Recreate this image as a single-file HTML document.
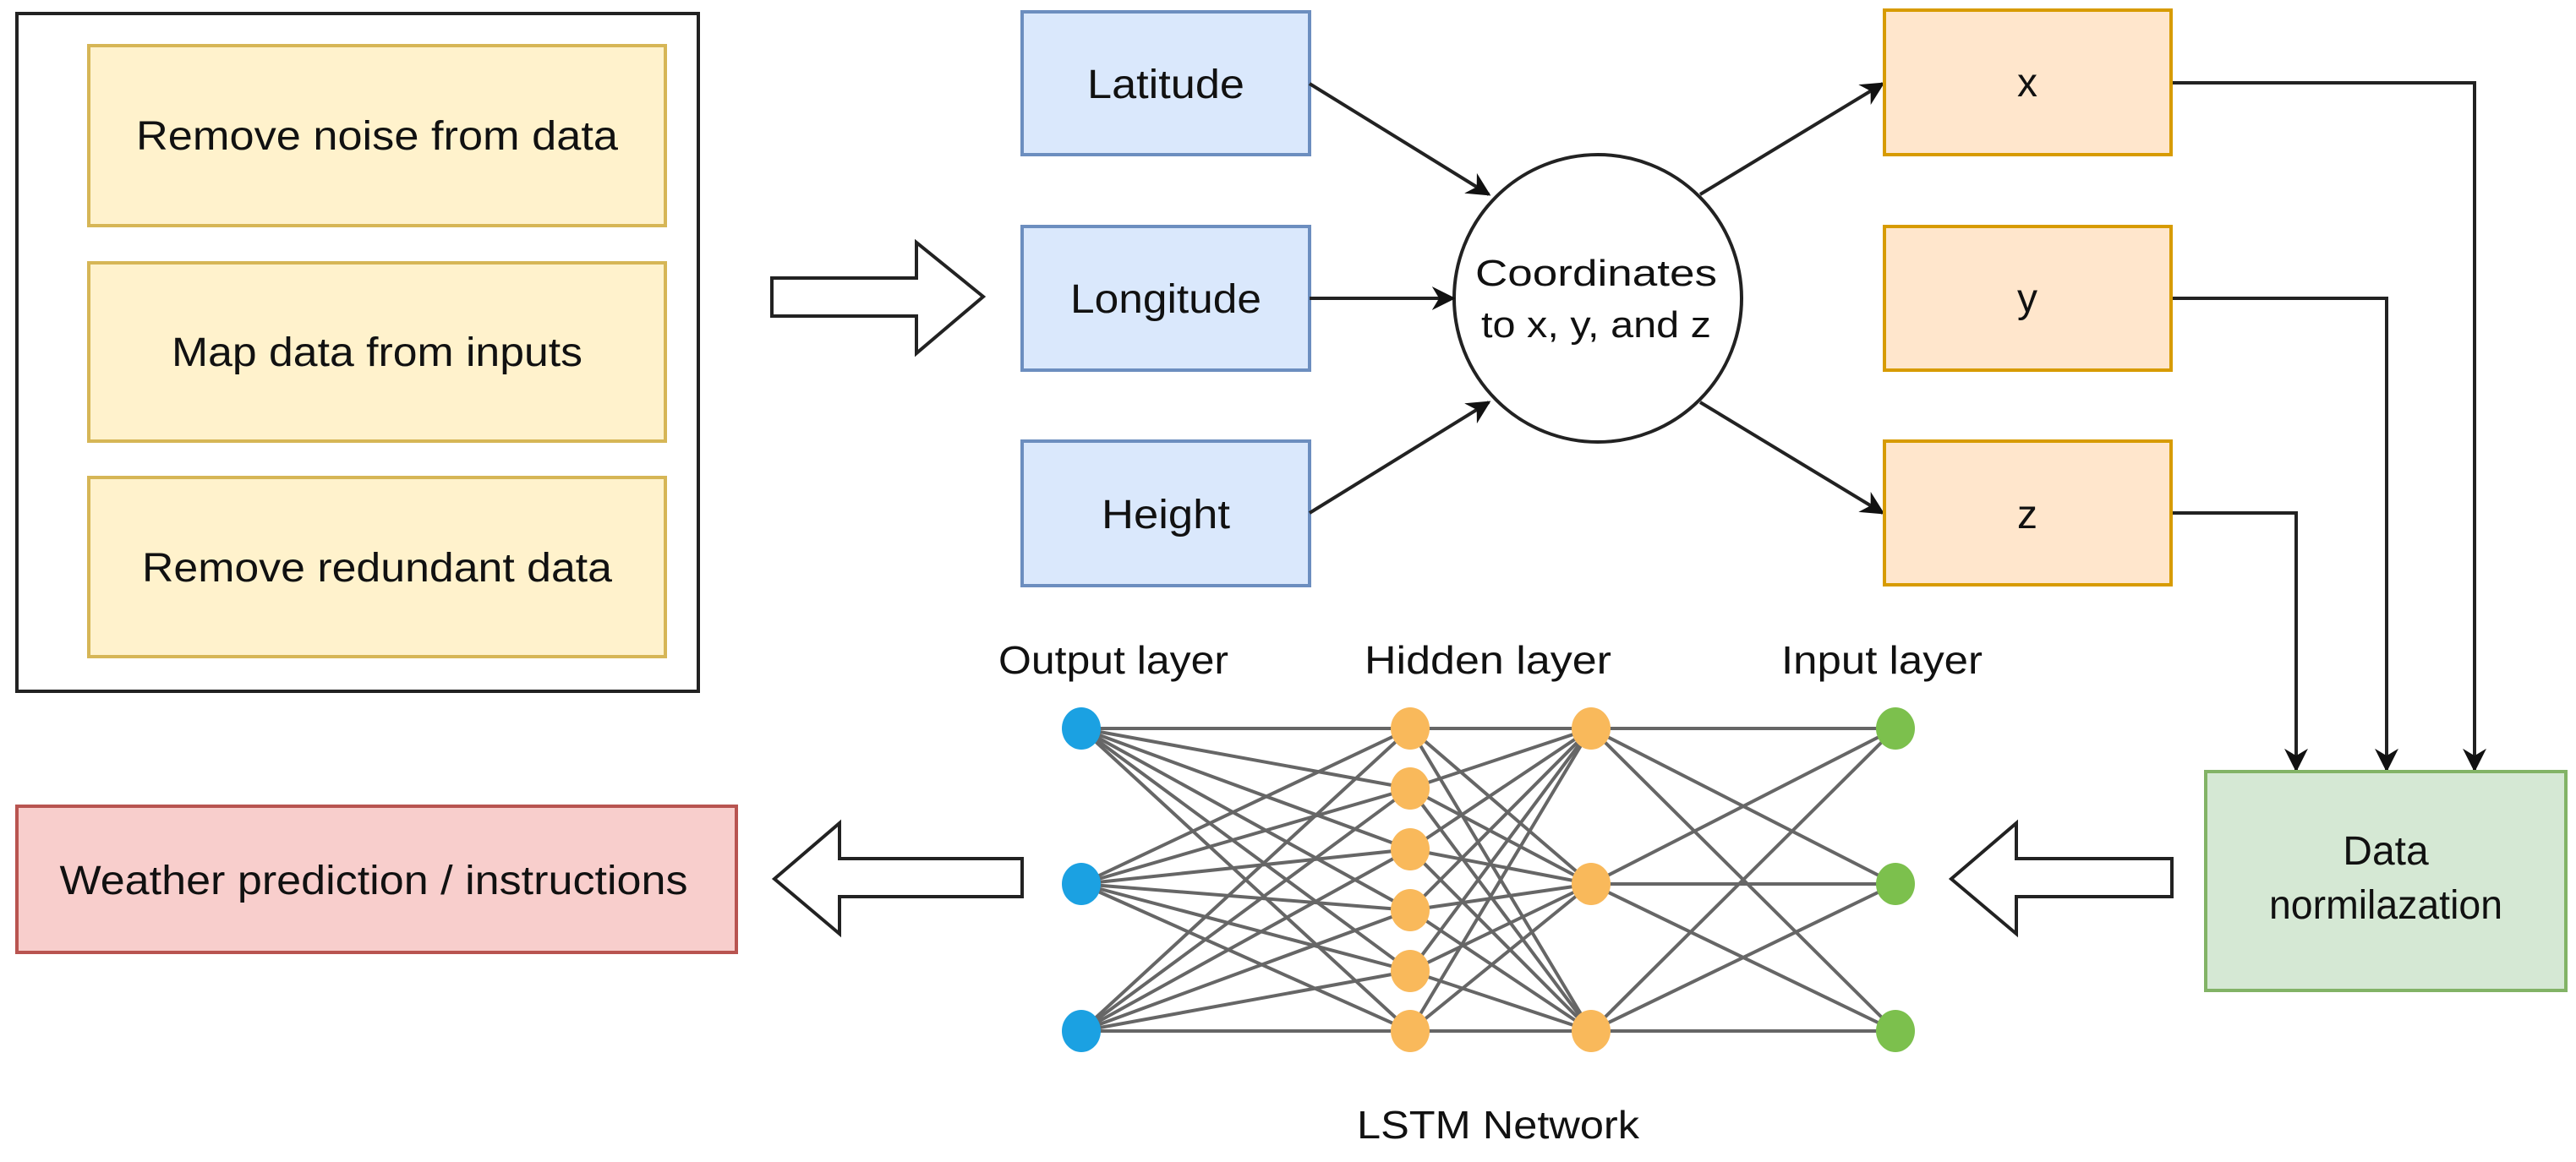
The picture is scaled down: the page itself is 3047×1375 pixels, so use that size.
<!DOCTYPE html>
<html><head><meta charset="utf-8"><style>html,body{margin:0;padding:0;background:#fff}svg{display:block}text{font-family:"Liberation Sans",Arial,sans-serif;fill:#111}</style></head>
<body>
<svg width="3047" height="1375" viewBox="0 0 3047 1375" xmlns="http://www.w3.org/2000/svg">
<defs>
<marker id="ah" viewBox="0 0 10 10" refX="9" refY="5" markerWidth="7" markerHeight="7" markerUnits="strokeWidth" orient="auto"><path d="M0,0 L10,5 L0,10 L3,5 z" fill="#111"/></marker>
</defs>
<rect x="20" y="16" width="806" height="802" fill="#fff" stroke="#222" stroke-width="4"/>
<g fill="#fff2cc" stroke="#d6b656" stroke-width="4">
<rect x="105" y="54" width="682" height="213"/>
<rect x="105" y="311" width="682" height="211"/>
<rect x="105" y="565" width="682" height="212"/>
</g>
<g font-size="48" text-anchor="middle">
<text x="446" y="177" textLength="570" lengthAdjust="spacingAndGlyphs">Remove noise from data</text>
<text x="446" y="433" textLength="486" lengthAdjust="spacingAndGlyphs">Map data from inputs</text>
<text x="446" y="688" textLength="556" lengthAdjust="spacingAndGlyphs">Remove redundant data</text>
</g>
<path d="M913,329 L1084,329 L1084,287 L1163,351 L1084,418 L1084,374 L913,374 Z" fill="#fff" stroke="#222" stroke-width="4"/>
<g fill="#dae8fc" stroke="#6c8ebf" stroke-width="4">
<rect x="1209" y="14" width="340" height="169"/>
<rect x="1209" y="268" width="340" height="170"/>
<rect x="1209" y="522" width="340" height="171"/>
</g>
<g font-size="48" text-anchor="middle">
<text x="1379" y="116" textLength="186" lengthAdjust="spacingAndGlyphs">Latitude</text>
<text x="1379" y="370" textLength="226" lengthAdjust="spacingAndGlyphs">Longitude</text>
<text x="1379" y="625" textLength="152" lengthAdjust="spacingAndGlyphs">Height</text>
</g>
<circle cx="1890" cy="353" r="170" fill="#fff" stroke="#222" stroke-width="4"/>
<g font-size="44" text-anchor="middle">
<text x="1888" y="338" textLength="286" lengthAdjust="spacingAndGlyphs">Coordinates</text>
<text x="1888" y="399" textLength="272" lengthAdjust="spacingAndGlyphs">to x, y, and z</text>
</g>
<g stroke="#222" stroke-width="4" fill="none" marker-end="url(#ah)">
<line x1="1549" y1="99" x2="1761" y2="230"/>
<line x1="1549" y1="353" x2="1719" y2="353"/>
<line x1="1549" y1="607" x2="1761" y2="476"/>
<line x1="2011" y1="230" x2="2227" y2="99"/>
<line x1="2011" y1="476" x2="2227" y2="607"/>
<polyline points="2568,98 2927,98 2927,911"/>
<polyline points="2568,353 2823,353 2823,911"/>
<polyline points="2568,607 2716,607 2716,911"/>
</g>
<g fill="#ffe6cc" stroke="#d79b00" stroke-width="4">
<rect x="2229" y="12" width="339" height="171"/>
<rect x="2229" y="268" width="339" height="170"/>
<rect x="2229" y="522" width="339" height="170"/>
</g>
<g font-size="48" text-anchor="middle">
<text x="2398" y="114">x</text>
<text x="2398" y="369">y</text>
<text x="2398" y="625">z</text>
</g>
<rect x="2609" y="913" width="426" height="259" fill="#d5e8d4" stroke="#82b366" stroke-width="4"/>
<g font-size="48" text-anchor="middle">
<text x="2822" y="1023">Data</text>
<text x="2822" y="1087" textLength="276" lengthAdjust="spacingAndGlyphs">normilazation</text>
</g>
<rect x="20" y="954" width="851" height="173" fill="#f8cecc" stroke="#b85450" stroke-width="4"/>
<text x="442" y="1058" font-size="48" text-anchor="middle" textLength="743" lengthAdjust="spacingAndGlyphs">Weather prediction / instructions</text>
<path d="M1209,1016 L993,1016 L993,974 L916,1040 L993,1105 L993,1061 L1209,1061 Z" fill="#fff" stroke="#222" stroke-width="4"/>
<path d="M2569,1016 L2385,1016 L2385,974 L2308,1040 L2385,1105 L2385,1061 L2569,1061 Z" fill="#fff" stroke="#222" stroke-width="4"/>
<g stroke="#666" stroke-width="4">
<line x1="1279" y1="862" x2="1668" y2="862"/><line x1="1279" y1="862" x2="1668" y2="933"/><line x1="1279" y1="862" x2="1668" y2="1005"/><line x1="1279" y1="862" x2="1668" y2="1077"/><line x1="1279" y1="862" x2="1668" y2="1149"/><line x1="1279" y1="862" x2="1668" y2="1220"/>
<line x1="1279" y1="1046" x2="1668" y2="862"/><line x1="1279" y1="1046" x2="1668" y2="933"/><line x1="1279" y1="1046" x2="1668" y2="1005"/><line x1="1279" y1="1046" x2="1668" y2="1077"/><line x1="1279" y1="1046" x2="1668" y2="1149"/><line x1="1279" y1="1046" x2="1668" y2="1220"/>
<line x1="1279" y1="1220" x2="1668" y2="862"/><line x1="1279" y1="1220" x2="1668" y2="933"/><line x1="1279" y1="1220" x2="1668" y2="1005"/><line x1="1279" y1="1220" x2="1668" y2="1077"/><line x1="1279" y1="1220" x2="1668" y2="1149"/><line x1="1279" y1="1220" x2="1668" y2="1220"/>
<line x1="1668" y1="862" x2="1882" y2="862"/><line x1="1668" y1="862" x2="1882" y2="1046"/><line x1="1668" y1="862" x2="1882" y2="1220"/>
<line x1="1668" y1="933" x2="1882" y2="862"/><line x1="1668" y1="933" x2="1882" y2="1046"/><line x1="1668" y1="933" x2="1882" y2="1220"/>
<line x1="1668" y1="1005" x2="1882" y2="862"/><line x1="1668" y1="1005" x2="1882" y2="1046"/><line x1="1668" y1="1005" x2="1882" y2="1220"/>
<line x1="1668" y1="1077" x2="1882" y2="862"/><line x1="1668" y1="1077" x2="1882" y2="1046"/><line x1="1668" y1="1077" x2="1882" y2="1220"/>
<line x1="1668" y1="1149" x2="1882" y2="862"/><line x1="1668" y1="1149" x2="1882" y2="1046"/><line x1="1668" y1="1149" x2="1882" y2="1220"/>
<line x1="1668" y1="1220" x2="1882" y2="862"/><line x1="1668" y1="1220" x2="1882" y2="1046"/><line x1="1668" y1="1220" x2="1882" y2="1220"/>
<line x1="1882" y1="862" x2="2242" y2="862"/><line x1="1882" y1="862" x2="2242" y2="1046"/><line x1="1882" y1="862" x2="2242" y2="1220"/>
<line x1="1882" y1="1046" x2="2242" y2="862"/><line x1="1882" y1="1046" x2="2242" y2="1046"/><line x1="1882" y1="1046" x2="2242" y2="1220"/>
<line x1="1882" y1="1220" x2="2242" y2="862"/><line x1="1882" y1="1220" x2="2242" y2="1046"/><line x1="1882" y1="1220" x2="2242" y2="1220"/>
</g>
<g fill="#1ba1e2">
<ellipse cx="1279" cy="862" rx="23" ry="25"/><ellipse cx="1279" cy="1046" rx="23" ry="25"/><ellipse cx="1279" cy="1220" rx="23" ry="25"/>
</g>
<g fill="#f9b95b">
<ellipse cx="1668" cy="862" rx="23" ry="25"/><ellipse cx="1668" cy="933" rx="23" ry="25"/><ellipse cx="1668" cy="1005" rx="23" ry="25"/><ellipse cx="1668" cy="1077" rx="23" ry="25"/><ellipse cx="1668" cy="1149" rx="23" ry="25"/><ellipse cx="1668" cy="1220" rx="23" ry="25"/>
<ellipse cx="1882" cy="862" rx="23" ry="25"/><ellipse cx="1882" cy="1046" rx="23" ry="25"/><ellipse cx="1882" cy="1220" rx="23" ry="25"/>
</g>
<g fill="#7cc04d">
<ellipse cx="2242" cy="862" rx="23" ry="25"/><ellipse cx="2242" cy="1046" rx="23" ry="25"/><ellipse cx="2242" cy="1220" rx="23" ry="25"/>
</g>
<g font-size="46" text-anchor="middle">
<text x="1317" y="797" textLength="272" lengthAdjust="spacingAndGlyphs">Output layer</text>
<text x="1760" y="797" textLength="292" lengthAdjust="spacingAndGlyphs">Hidden layer</text>
<text x="2226" y="797" textLength="238" lengthAdjust="spacingAndGlyphs">Input layer</text>
<text x="1772" y="1347" textLength="334" lengthAdjust="spacingAndGlyphs">LSTM Network</text>
</g>
</svg>
</body></html>
